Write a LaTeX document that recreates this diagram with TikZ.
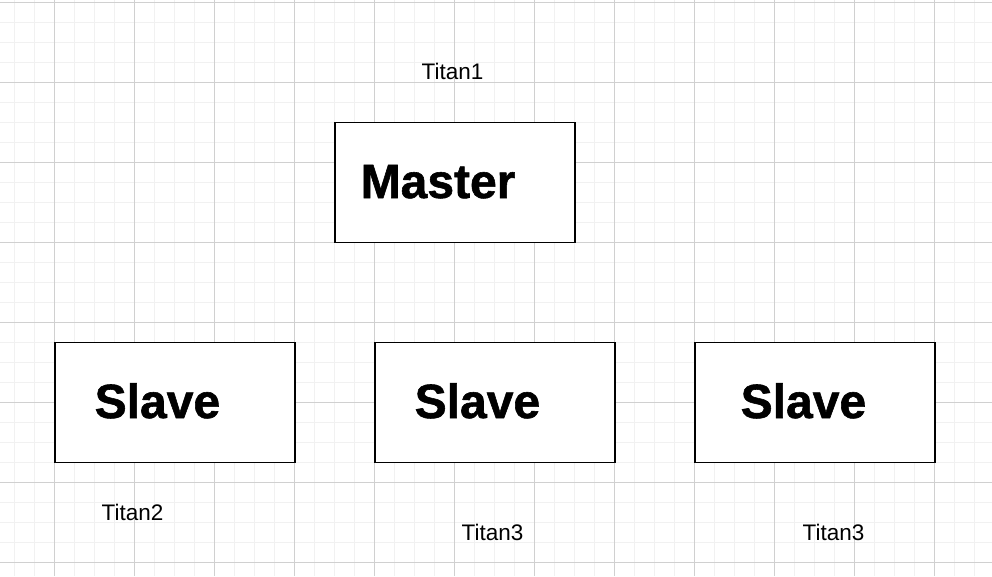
\documentclass[tikz,border=0pt]{standalone}
\usepackage{fontspec}
\setmainfont{Liberation Sans}
\newfontfamily\heavyfont{Liberation Sans}[BoldFont={Liberation Sans Bold},BoldFeatures={FakeBold=1.2}]
\definecolor{minorgrid}{HTML}{F1F1F1}
\definecolor{majorgrid}{HTML}{D0D0D0}
\begin{document}
\begin{tikzpicture}[x=1pt,y=-1pt,
  box/.style={draw=black,line width=1.9pt,fill=white,minimum width=240pt,minimum height=120pt,inner sep=0pt},
  bigtext/.style={font=\heavyfont\fontsize{48}{50}\selectfont\bfseries,inner sep=0pt,anchor=base west},
  tag/.style={font=\fontsize{22.5}{24}\selectfont,inner sep=0pt,anchor=base west}]
\useasboundingbox (0,0) rectangle (992,576);
\fill[white] (0,0) rectangle (992,576);
% minor grid
\foreach \x in {14.5,34.5,...,994} \draw[minorgrid,line width=1.2pt] (\x,0) -- (\x,576);
\foreach \y in {2.5,22.5,...,580} \draw[minorgrid,line width=1.2pt] (0,\y) -- (992,\y);
% major grid
\foreach \x in {54.5,134.5,...,994} \draw[majorgrid,line width=0.8pt] (\x,0) -- (\x,576);
\foreach \y in {2.5,82.5,...,580} \draw[majorgrid,line width=0.8pt] (0,\y) -- (992,\y);
% boxes
\node[box] (master) at (455,182.5) {};
\node[box] (slaveA) at (175,402.5) {};
\node[box] (slaveB) at (495,402.5) {};
\node[box] (slaveC) at (815,402.5) {};
% box texts
\node[bigtext] (masterT) at (360.5,198) {Master};
\node[bigtext] (slaveAT) at (94.5,418) {Slave};
\node[bigtext] (slaveBT) at (414.5,418) {Slave};
\node[bigtext] (slaveCT) at (740.5,418) {Slave};
% tags
\node[tag] (t1) at (421.5,79.5) {Titan1};
\node[tag] (t2) at (101.5,520) {Titan2};
\node[tag] (t3) at (461.5,540) {Titan3};
\node[tag] (t4) at (802.5,540) {Titan3};
\end{tikzpicture}
\end{document}
